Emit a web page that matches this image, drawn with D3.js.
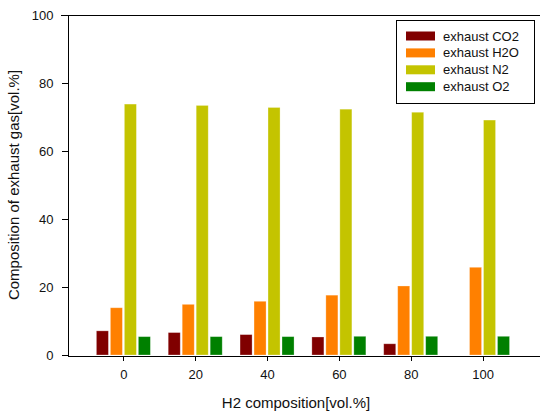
<!DOCTYPE html>
<html>
<meta charset="utf-8">
<head>
<style>
body { margin: 0; background: #fff; }
svg text { font-family: "Liberation Sans", Arial, sans-serif; fill: #111; }
.axis path, .axis line { stroke: #000; shape-rendering: crispEdges; }
</style>
</head>
<body>
<svg width="540" height="413"></svg>
<script src="https://d3js.org/d3.v7.min.js"></script>
<script>

// H2 share in fuel [vol.%]
var h2 = [0, 20, 40, 60, 80, 100];
var series = ["exhaust CO2", "exhaust H2O", "exhaust N2", "exhaust O2"];
var co2 = [7.1, 6.6, 6.0, 5.3, 3.3, 0];
var h2o = [13.9, 14.9, 15.8, 17.6, 20.3, 25.8];
var n2  = [73.8, 73.4, 72.8, 72.3, 71.4, 69.1];
var o2  = [5.4, 5.4, 5.4, 5.5, 5.5, 5.5];
var yTicks = [0, 20, 40, 60, 80, 100];

var colors = ["#800000", "#ff8000", "#c4c400", "#008000"];
var values = [co2, h2o, n2, o2];

var svg = d3.select("svg");

var x = d3.scaleLinear().domain([-15.7, 116]).range([67, 540]);
var y = d3.scaleLinear().domain([0, 100]).range([355, 15]);
// position of each series inside a group
var sub = d3.scaleBand().domain(series).range([-27, 27]).paddingInner(0.14);

// top frame line
svg.append("line")
  .attr("x1", 61).attr("x2", 540)
  .attr("y1", y(100) + 0.5).attr("y2", y(100) + 0.5)
  .attr("stroke", "#000");

// bars
series.forEach(function(s, si) {
  svg.append("g")
    .selectAll("rect")
    .data(h2)
    .enter().append("rect")
    .attr("x", function(d) { return x(d) + sub(s); })
    .attr("width", sub.bandwidth())
    .attr("y", function(d, i) { return y(values[si][i]); })
    .attr("height", function(d, i) { return y(0) - y(values[si][i]); })
    .attr("fill", colors[si])
    .attr("stroke", "#fff")
    .attr("stroke-opacity", 0.35)
    .attr("stroke-width", 0.8)
    .style("display", function(d, i) { return values[si][i] > 0 ? null : "none"; });
});

var xAxis = d3.axisBottom(x).tickValues(h2).tickSize(5).tickPadding(9).tickSizeOuter(0);
var gx = svg.append("g")
  .attr("class", "axis")
  .attr("transform", "translate(0," + (y(0) + 0.5) + ")")
  .call(xAxis);
gx.selectAll("text").style("font-size", "13px");

var yAxis = d3.axisLeft(y).tickValues(yTicks).tickSize(6).tickPadding(8).tickSizeOuter(0);
var gy = svg.append("g")
  .attr("class", "axis")
  .attr("transform", "translate(67.5,0)")
  .call(yAxis);
gy.selectAll("text").style("font-size", "13px");

// axis titles
svg.append("text")
  .attr("x", 296).attr("y", 408)
  .attr("text-anchor", "middle")
  .style("font-size", "15px")
  .text("H2 composition[vol.%]");

svg.append("text")
  .attr("transform", "translate(19,185) rotate(-90)")
  .attr("text-anchor", "middle")
  .style("font-size", "15px")
  .text("Composition of exhaust gas[vol.%]");

// legend
var legend = svg.append("g").attr("transform", "translate(396,20)");
legend.append("rect")
  .attr("x", 0.5).attr("y", 0.5)
  .attr("width", 138).attr("height", 83)
  .attr("fill", "#fff").attr("stroke", "#000");

var item = legend.selectAll("g.item")
  .data(series)
  .enter().append("g")
  .attr("class", "item")
  .attr("transform", function(d, i) { return "translate(10," + (16 + i * 16.9) + ")"; });

item.append("rect")
  .attr("x", 0).attr("y", -4.5)
  .attr("width", 29).attr("height", 9)
  .attr("fill", function(d, i) { return colors[i]; });

item.append("text")
  .attr("x", 37).attr("y", 4.5)
  .style("font-size", "13px")
  .text(function(d) { return d; });

</script>
</body>
</html>
